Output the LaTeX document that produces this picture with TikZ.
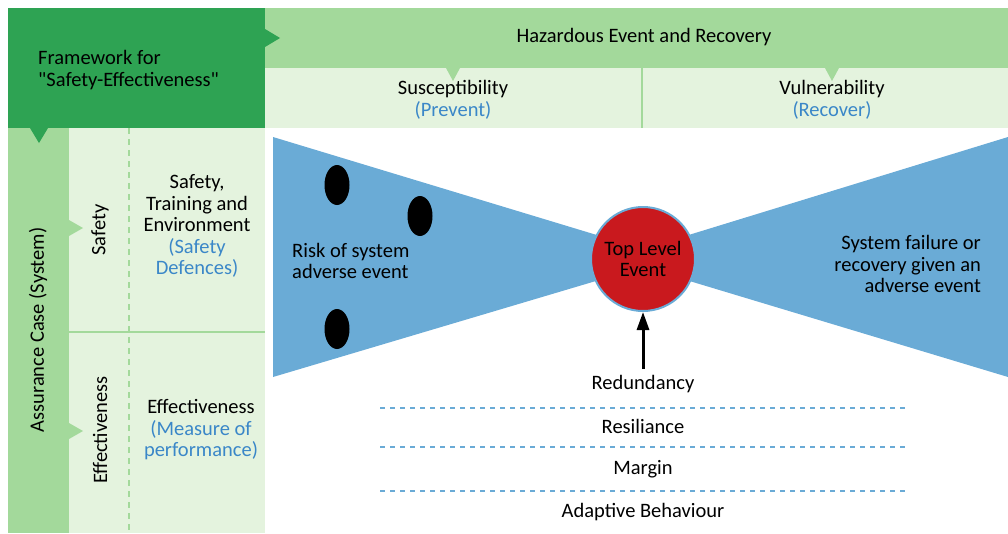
\documentclass[tikz,border=0pt]{standalone}
\usepackage{fontspec}
\setmainfont{Carlito}
\usetikzlibrary{arrows.meta, shapes.geometric}

\definecolor{frameG}{HTML}{2EA353}
\definecolor{bandG}{HTML}{A3D99B}
\definecolor{paleG}{HTML}{E4F3DE}
\definecolor{bowB}{HTML}{6AABD6}
\definecolor{hintB}{HTML}{3A87C8}
\definecolor{eventR}{HTML}{C9191E}

\begin{document}
\begin{tikzpicture}[x=1pt, y=-1pt, font=\fontsize{20.5}{21.5}\selectfont,
    lbl/.style={align=center, inner sep=0pt},
    blob/.style={ellipse, fill=black, minimum width=25pt, minimum height=40pt, inner sep=0pt},
    level/.style={bowB, line width=2pt, dash pattern=on 5pt off 5pt}]
        \useasboundingbox (0,0) rectangle (1008,533);
        % header and side panels
        \fill[frameG] (8,8) rectangle (265,128);
        \fill[bandG] (265,8) rectangle (1008,68);
        \fill[paleG] (265,68) rectangle (1008,128);
        \fill[bandG] (8,128) rectangle (69,533);
        \fill[paleG] (69,128) rectangle (265,533);
        \draw[bandG, line width=2pt] (642,68) -- (642,128);
        \draw[bandG, line width=2pt] (69,332) -- (265,332);
        \draw[bandG, line width=2pt, dash pattern=on 6pt off 5pt] (129,128) -- (129,533);
        \fill[frameG] (265,29) -- (280,38) -- (265,47) -- cycle;
        \fill[frameG] (30,128) -- (39,143) -- (48,128) -- cycle;
        \fill[bandG] (446,68) -- (453,81) -- (460,68) -- cycle;
        \fill[bandG] (825,68) -- (832,81) -- (839,68) -- cycle;
        \fill[bandG] (69,220) -- (83,228) -- (69,236) -- cycle;
        \fill[bandG] (69,423) -- (83,431) -- (69,439) -- cycle;
        \node[lbl, align=left, anchor=west] (frame) at (38,70) {Framework for\\\textquotedbl Safety-Effectiveness\textquotedbl};
        \node[lbl] (hazard) at (644,37) {Hazardous Event and Recovery};
        \node[lbl] (suscept) at (453,100) {Susceptibility\\\textcolor{hintB}{(Prevent)}};
        \node[lbl] (vulner) at (832,100) {Vulnerability\\\textcolor{hintB}{(Recover)}};
        \node[lbl, rotate=90] (assure) at (38,330) {Assurance Case (System)};
        \node[lbl, rotate=90] (safety) at (100,230) {Safety};
        \node[lbl, rotate=90] (effect) at (100,430) {Effectiveness};
        \node[lbl] (defence) at (197,226) {Safety,\\Training and\\Environment\\\textcolor{hintB}{(Safety}\\\textcolor{hintB}{Defences)}};
        \node[lbl] (measure) at (201,430) {Effectiveness\\\textcolor{hintB}{(Measure of}\\\textcolor{hintB}{performance)}};
        % bow tie
        \fill[bowB] (273,137) -- (643,249) -- (643,267) -- (273,377) -- cycle;
        \fill[bowB] (1008,137) -- (643,249) -- (643,267) -- (1008,377) -- cycle;
        \node[blob] (b1) at (337,185) {};
        \node[blob] (b2) at (420,216) {};
        \node[blob] (b3) at (337,329) {};
        \node[circle, fill=eventR, draw=bowB, line width=2pt, minimum size=104pt, lbl] (tle) at (643,259) {Top Level\\Event};
        \node[lbl, align=left, anchor=west] (risk) at (292,261) {Risk of system\\adverse event};
        \node[lbl, align=right, anchor=east] (fail) at (981,264) {System failure or\\recovery given an\\adverse event};
        % barriers
        \node[lbl] (redund) at (643,384) {Redundancy};
        \node[lbl] (resil) at (643,426) {Resiliance};
        \node[lbl] (margin) at (643,469) {Margin};
        \node[lbl] (adapt) at (643,512) {Adaptive Behaviour};
        \draw[line width=3pt, -{Triangle[length=18pt, width=12pt]}] (redund.north) ++(0,-6) -- (tle.south);
        \draw[level] (380,408) -- (906,408);
        \draw[level] (380,447) -- (906,447);
        \draw[level] (380,491) -- (906,491);
      \end{tikzpicture}
\end{document}
